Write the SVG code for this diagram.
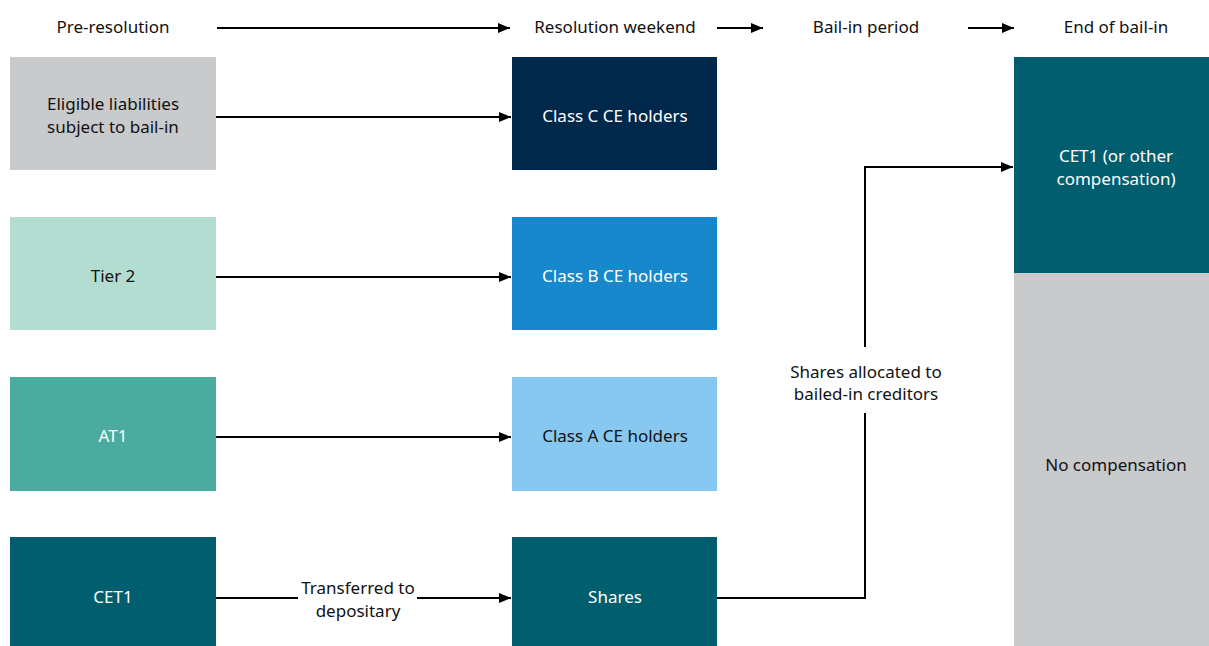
<svg xmlns="http://www.w3.org/2000/svg" width="1209" height="646" viewBox="0 0 1209 646">
  <style>
    text { font-family: "Noto Sans", "Open Sans", sans-serif; font-size: 17px; text-anchor: middle; }
    .dark { fill: #111111; }
    .light { fill: #ffffff; }
    .conn { stroke: #000; stroke-width: 2; fill: none; }
  </style>
  <defs>
    <marker id="arrow" viewBox="0 0 12 10" refX="12" refY="5" markerWidth="12" markerHeight="10" markerUnits="userSpaceOnUse" orient="auto">
      <path d="M0,0 L12,5 L0,10 Z" fill="#000"/>
    </marker>
  </defs>
  <rect width="1209" height="646" fill="#ffffff"/>

  <!-- Phase headings -->
  <g id="headings">
    <text class="dark" x="113" y="33">Pre-resolution</text>
    <text class="dark" x="615" y="33">Resolution weekend</text>
    <text class="dark" x="866" y="33">Bail-in period</text>
    <text class="dark" x="1116" y="33">End of bail-in</text>
  </g>

  <!-- Pre-resolution column -->
  <g id="eligible">
    <rect x="10" y="57" width="206" height="113" fill="#c8cacc"/>
    <text class="dark" x="113" y="110">Eligible liabilities</text>
    <text class="dark" x="113" y="133">subject to bail-in</text>
  </g>
  <g id="tier2">
    <rect x="10" y="217" width="206" height="113" fill="#b2ddd0"/>
    <text class="dark" x="113" y="282">Tier 2</text>
  </g>
  <g id="at1">
    <rect x="10" y="377" width="206" height="114" fill="#4aab9e"/>
    <text class="light" x="113" y="442">AT1</text>
  </g>
  <g id="cet1">
    <rect x="10" y="537" width="206" height="109" fill="#005e6e"/>
    <text class="light" x="113" y="603">CET1</text>
  </g>

  <!-- Resolution weekend column -->
  <g id="classC">
    <rect x="512" y="57" width="205" height="113" fill="#00284a"/>
    <text class="light" x="615" y="122">Class C CE holders</text>
  </g>
  <g id="classB">
    <rect x="512" y="217" width="205" height="113" fill="#1788cb"/>
    <text class="light" x="615" y="282">Class B CE holders</text>
  </g>
  <g id="classA">
    <rect x="512" y="377" width="205" height="114" fill="#86c8f0"/>
    <text class="dark" x="615" y="442">Class A CE holders</text>
  </g>
  <g id="shares">
    <rect x="512" y="537" width="205" height="109" fill="#005e6e"/>
    <text class="light" x="615" y="603">Shares</text>
  </g>

  <!-- End of bail-in column -->
  <g id="compensation">
    <rect x="1014" y="57" width="195" height="216" fill="#005e6e"/>
    <text class="light" x="1116" y="162">CET1 (or other</text>
    <text class="light" x="1116" y="185">compensation)</text>
  </g>
  <g id="noCompensation">
    <rect x="1014" y="273" width="195" height="373" fill="#c8cacc"/>
    <text class="dark" x="1116" y="471">No compensation</text>
  </g>

  <!-- Connectors -->
  <g id="connectors">
    <line class="conn" x1="217" y1="28" x2="510" y2="28" marker-end="url(#arrow)"/>
    <line class="conn" x1="717" y1="28" x2="763" y2="28" marker-end="url(#arrow)"/>
    <line class="conn" x1="968" y1="28" x2="1014" y2="28" marker-end="url(#arrow)"/>

    <line class="conn" x1="216" y1="117" x2="511" y2="117" marker-end="url(#arrow)"/>
    <line class="conn" x1="216" y1="277" x2="511" y2="277" marker-end="url(#arrow)"/>
    <line class="conn" x1="216" y1="437" x2="511" y2="437" marker-end="url(#arrow)"/>

    <line class="conn" x1="216" y1="598" x2="298" y2="598"/>
    <line class="conn" x1="417" y1="598" x2="511" y2="598" marker-end="url(#arrow)"/>
    <text class="dark" x="358" y="594">Transferred to</text>
    <text class="dark" x="358" y="617">depositary</text>

    <polyline class="conn" points="717,598 865,598 865,413"/>
    <polyline class="conn" points="865,347 865,167 1013,167" marker-end="url(#arrow)"/>
    <text class="dark" x="866" y="378">Shares allocated to</text>
    <text class="dark" x="866" y="400">bailed-in creditors</text>
  </g>
</svg>
